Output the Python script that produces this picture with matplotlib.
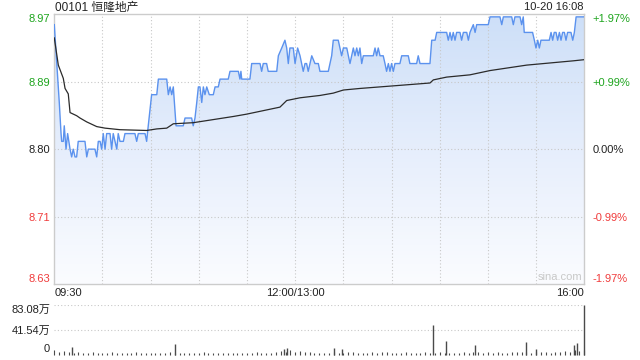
import numpy as np
import matplotlib
matplotlib.use("Agg")
import matplotlib.pyplot as plt
from matplotlib.colors import LinearSegmentedColormap

plt.rcParams['font.family'] = ['Liberation Sans', 'Noto Sans CJK SC', 'DejaVu Sans']

# ---------------- data ----------------
title = "00101 恒隆地产"
stamp = "10-20 16:08"
prev_close = 8.80
price_ticks = [8.6267, 8.7133, 8.80, 8.8867, 8.9733]
price_tick_labels = ["8.63", "8.71", "8.80", "8.89", "8.97"]
pct_tick_labels = ["-1.97%", "-0.99%", "0.00%", "+0.99%", "+1.97%"]
x_tick_pos = [0, 150, 330]
x_tick_labels = ["09:30", "12:00/13:00", "16:00"]

price_min = [0, 3.1, 4.2, 4.6, 5.6, 6.2, 7.3, 8.3, 9.8, 10.8, 11.8, 12.9, 13.9, 14.9, 19.1,
             20.2, 21.2, 25.3, 26.4, 27.4, 28.5, 29.5, 30.5, 31.6, 32.6, 34.7, 35.7, 36.7,
             38.9, 39.8, 40.9, 43, 44, 50.2, 51.3, 52.3, 56.5, 57.5, 58.5, 60.6, 63.8, 64.8,
             70, 71, 72.1, 73.1, 74.1, 75.8, 80.3, 81.4, 85.5, 86.5, 87.6, 88.7, 89.7, 90.7,
             91.8, 92.8, 93.8, 94.9, 96.5, 99, 100.1, 102.1, 103.2, 108.3, 109.4, 114.6,
             115.6, 116.2, 116.7, 121.8, 122.9, 128.1, 129.1, 130.1, 132.2, 133.2, 138.5,
             139.5, 141.6, 143.6, 144.7, 145.7, 146.7, 148.8, 149.9, 151.5, 153, 155, 156.1,
             157.1, 158.1, 160.3, 162.3, 164.4, 165.4, 170.6, 172.7, 173.7, 176.8, 178.9,
             180, 182.1, 183.1, 184.1, 186.2, 187.2, 188.3, 189.3, 190.3, 191.4, 192.4,
             198.6, 199.7, 200.7, 201.7, 202.8, 204.8, 205.9, 206.9, 208, 209, 210, 211.1,
             212.1, 215.2, 216.3, 220.4, 221.4, 225.6, 226.6, 227.7, 233.9, 235, 237.1,
             238.1, 244.3, 245.3, 246.4, 247.4, 248.4, 249.5, 250.5, 252.6, 253.6, 254.7,
             256.8, 257.8, 258.8, 260.9, 262, 263, 270.2, 271.3, 277.5, 278.6, 279.6, 284.8,
             285.8, 286.8, 290, 291, 292, 292.6, 297.8, 298.9, 299.9, 301, 302, 303, 308.2,
             309.3, 310.3, 311.3, 312.4, 313.4, 314.5, 315.5, 316.5, 317.6, 318.6, 319.6,
             321.7, 322.8, 323.8, 324.9, 330]
price_val = [8.96, 8.86, 8.82, 8.81, 8.81, 8.83, 8.80, 8.82, 8.80, 8.79, 8.80, 8.79, 8.79, 8.81, 8.81,
             8.79, 8.80, 8.80, 8.79, 8.81, 8.81, 8.80, 8.82, 8.80, 8.82, 8.82, 8.80, 8.82,
             8.80, 8.82, 8.81, 8.81, 8.82, 8.82, 8.81, 8.82, 8.82, 8.81, 8.83, 8.87, 8.87, 8.89,
             8.89, 8.87, 8.88, 8.87, 8.88, 8.83, 8.83, 8.84, 8.84, 8.83, 8.84, 8.86, 8.88, 8.88,
             8.86, 8.88, 8.87, 8.88, 8.87, 8.87, 8.88, 8.88, 8.89, 8.89, 8.90, 8.90,
             8.89, 8.90, 8.89, 8.89, 8.91, 8.91, 8.90, 8.91, 8.91, 8.90, 8.90,
             8.92, 8.93, 8.94, 8.93, 8.91, 8.93, 8.93, 8.91, 8.93, 8.92, 8.90, 8.91,
             8.91, 8.90, 8.92, 8.91, 8.91, 8.90, 8.90, 8.92, 8.94, 8.94, 8.92,
             8.93, 8.93, 8.92, 8.91, 8.93, 8.92, 8.93, 8.92, 8.93, 8.91, 8.92,
             8.92, 8.93, 8.92, 8.93, 8.92, 8.92, 8.91, 8.90, 8.91, 8.90, 8.91, 8.90,
             8.91, 8.91, 8.92, 8.92, 8.91, 8.91, 8.92, 8.91, 8.91, 8.94, 8.94,
             8.95, 8.95, 8.94, 8.95, 8.94, 8.95, 8.94, 8.95, 8.95, 8.94, 8.95,
             8.95, 8.94, 8.95, 8.96, 8.95, 8.96, 8.96, 8.97, 8.97, 8.96, 8.97, 8.97,
             8.96, 8.97, 8.97, 8.96, 8.97, 8.95, 8.95, 8.94, 8.93, 8.94, 8.93, 8.94, 8.94,
             8.95, 8.94, 8.95, 8.95, 8.94, 8.95, 8.94, 8.95, 8.95, 8.94, 8.95,
             8.95, 8.94, 8.95, 8.97, 8.97]

avg_min = [0, 2.5, 5.6, 6.7, 8.7, 9.8, 13.9, 16, 20.2, 26.4, 31.6, 40.9, 57.5, 63.8, 70, 74.1,
           86.5, 111.5, 119.8, 140.5, 144.7, 153, 165.4, 173.7, 180, 190.3, 233.9, 236,
           244.3, 258.8, 271.3, 294.1, 323.1, 330]
avg_val = [8.943, 8.908, 8.891, 8.878, 8.871, 8.847, 8.843, 8.840, 8.835, 8.829, 8.827, 8.825,
           8.824, 8.826, 8.827, 8.8326, 8.834, 8.842, 8.845, 8.854, 8.8625, 8.866, 8.869,
           8.872, 8.876, 8.878, 8.885, 8.889, 8.8926, 8.8955, 8.901, 8.908, 8.9135, 8.915]

# volume (万 shares), every 3 minutes, plus notable spikes
vol_base = [7, 5, 6, 4, 3, 4, 3, 2, 4, 3,
            3, 2, 4, 3, 3, 2, 3, 4, 2, 3,
            2, 3, 2, 3, 4, 3, 2, 3, 3, 2,
            3, 4, 3, 2, 3, 2, 3, 3, 2, 3,
            2, 3, 4, 3, 2, 3, 5, 6, 5, 7,
            4, 6, 5, 4, 3, 3, 2, 3, 4, 3,
            3, 4, 5, 3, 2, 3, 4, 3, 5, 4,
            3, 2, 3, 4, 3, 2, 3, 4, 3, 3,
            4, 3, 3, 2, 3, 4, 3, 4, 5, 3,
            4, 3, 4, 3, 3, 4, 4, 5, 4, 3,
            4, 5, 4, 3, 5, 4, 6, 5, 7, 6,
            8]
vol_spike_min = [11, 75, 143, 145, 174, 179, 236, 244, 262, 294, 300, 323.5, 325.6, 329.7]
vol_spike_val = [12, 17, 10, 11, 11, 10, 49, 22.5, 16, 21, 10, 16, 19, 83.08]
vol_max = 83.08

# ---------------- drawing ----------------
green = '#1ea51e'
red = '#f03c3c'
grid_c = '#c8c8c8'
blue = '#5b92ee'

fig = plt.figure(figsize=(6.4, 3.6), dpi=100)
ax = fig.add_axes([54.3 / 640, 1 - 284 / 360, 530 / 640, (284 - 14.3) / 360])
ymin, ymax = price_ticks[0], price_ticks[-1]
ax.set_xlim(0, 330)
ax.set_ylim(ymin, ymax)

# gradient fill under price line
cmap = LinearSegmentedColormap.from_list('g', ['#fbfcff', '#e6eefc', '#cddff8'])
grad = np.linspace(0, 1, 256).reshape(-1, 1)
im = ax.imshow(grad, cmap=cmap, aspect='auto', extent=[0, 330, ymin, ymax],
               origin='lower', zorder=1)
poly = ax.fill_between(price_min, price_val, ymin, color='none', lw=0)
im.set_clip_path(poly.get_paths()[0], transform=ax.transData)

# grid
for xv in np.arange(30, 330, 30):
    ax.axvline(xv, color=grid_c, lw=0.8, ls=(0, (1, 2)), zorder=2)
for yv in price_ticks[1:-1]:
    ax.axhline(yv, color=grid_c, lw=0.8, ls=(0, (1, 2)), zorder=2)

ax.plot(price_min, price_val, color=blue, lw=1.0, zorder=4)
ax.plot(avg_min, avg_val, color='#2b2b2b', lw=0.9, zorder=4)

for s in ax.spines.values():
    s.set_color('#cccccc')
    s.set_linewidth(1.0)

ax.set_yticks(price_ticks)
ax.set_yticklabels(price_tick_labels)
ax.tick_params(axis='y', length=0, pad=3, labelsize=8)
lab_cols = [red, red, '#222222', green, green]
for t, c in zip(ax.get_yticklabels(), lab_cols):
    t.set_color(c)
ylabels = ax.get_yticklabels()
ylabels[0].set_va('bottom')
ylabels[-1].set_va('top')

ax2 = ax.twinx()
ax2.set_ylim(ymin, ymax)
ax2.set_yticks(price_ticks)
ax2.set_yticklabels(pct_tick_labels)
ax2.tick_params(axis='y', length=0, pad=6, labelsize=8)
for t, c in zip(ax2.get_yticklabels(), lab_cols):
    t.set_color(c)
r = ax2.get_yticklabels()
r[0].set_va('bottom')
r[-1].set_va('top')
for s in ax2.spines.values():
    s.set_visible(False)

ax.set_xticks(x_tick_pos)
ax.set_xticklabels(x_tick_labels)
ax.tick_params(axis='x', length=0, pad=3, labelsize=8, colors='#222222')
xl = ax.get_xticklabels()
xl[0].set_ha('left')
xl[-1].set_ha('right')

ax.text(329, ymin + 0.002, 'sina.com', color='#c8c8c8', fontsize=8,
        ha='right', va='bottom', zorder=5)

fig.text(55 / 640, 1 - 7.5 / 360, title, fontsize=8.5, color='#222222', ha='left', va='center')
fig.text(584 / 640, 1 - 7.5 / 360, stamp, fontsize=8, color='#222222', ha='right', va='center')

# volume panel
axv = fig.add_axes([54.3 / 640, 1 - 354.5 / 360, 530 / 640, (354.5 - 305) / 360])
axv.set_xlim(0, 330)
axv.set_ylim(0, vol_max)
vb_min = np.arange(len(vol_base)) * 3
axv.vlines(vb_min, 0, vol_base, color='#4a4a4a', lw=0.8, clip_on=False)
axv.vlines(vol_spike_min, 0, vol_spike_val, color='#4a4a4a', lw=1.0, clip_on=False)
for yv in [vol_max / 2, vol_max]:
    axv.axhline(yv, color=grid_c, lw=0.8, ls=(0, (1, 2)), zorder=0)
for s in axv.spines.values():
    s.set_visible(False)
axv.set_xticks([])
axv.set_yticks([0, vol_max / 2, vol_max])
axv.set_yticklabels(['0', '41.54万', '83.08万'])
axv.tick_params(axis='y', length=0, pad=3, labelsize=8, colors='#222222')
vl = axv.get_yticklabels()
vl[0].set_va('bottom')
vl[-1].set_va('top')

fig.savefig('out.png', dpi=100)
